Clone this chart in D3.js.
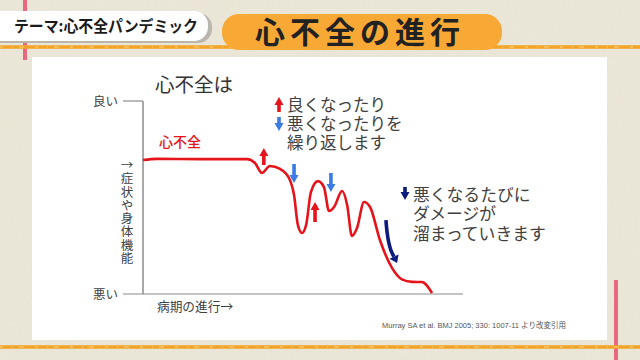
<!DOCTYPE html>
<html><head><meta charset="utf-8">
<script src="https://cdn.jsdelivr.net/npm/d3@7"></script>
<style>html,body{margin:0;padding:0;background:#eeeadb;}svg{display:block;}
.note{font-family:'Noto Sans CJK JP','Noto Sans',sans-serif;color:#404040;white-space:nowrap;margin:0;padding:0;}</style>
</head><body>
<svg id="c" width="640" height="360"></svg>
<script>
// ---- data ----
const stage = [0, 4.4, 18, 32.7, 35.2, 37.4, 39.9, 43.1, 45.9, 47.5, 48.7, 50.0, 51.3, 52.8, 55.0, 56.9, 58.5, 60.1, 62.6, 64.2, 65.7, 67.3, 69.5, 71.4, 74.5, 78.3, 81.4, 84.6, 87.7, 90.9];
const func  = [69.4, 70.0, 69.9, 69.9, 67.9, 62.7, 66.3, 64.8, 60.1, 51.3, 35.8, 31.6, 35.8, 52.8, 58.5, 55.4, 43.0, 45.1, 53.4, 46.1, 30.1, 34.2, 47.7, 45.1, 28.0, 13.5, 7.6, 6.3, 6.2, 0.5];
const yTickLabels = ["悪い", "良い"];
const yTickValues = [0, 100];
const yAxisTitle = "→症状や身体機能";
const xAxisTitle = "病期の進行→";
const seriesName = "心不全";
const chartTitle = "心不全は";
// annotation arrows
const arrowX    = [38.0, 47.5, 54.1, 59.1];
const arrowFrom = [66.8, 67.4, 37.3, 62.7];
const arrowTo   = [75.6, 57.5, 47.7, 52.8];
const arrowKind = ["up", "down", "up", "down"];
const damageArrow = [[76.4, 38.3], [77.6, 24], [79.9, 16.1]];
const noteLines1 = ["良くなったり", "悪くなったりを", "繰り返します"];
const noteLines2 = ["悪くなるたびに", "ダメージが", "溜まっていきます"];
const headerTag = "テーマ:心不全パンデミック";
const headerTitle = "心不全の進行";
const citation = "Murray SA et al. BMJ 2005; 330: 1007-11 より改変引用";

const RED = "#e5141b", BLUE = "#3b7be3", NAVY = "#0b1a7e", TXT = "#404040";
const FONT = "'Noto Sans CJK JP','Noto Sans',sans-serif";

const svg = d3.select("#c");
// background texture
const defs = svg.append("defs");
const f = defs.append("filter").attr("id","noise");
f.append("feTurbulence").attr("type","fractalNoise").attr("baseFrequency",0.9).attr("numOctaves",2).attr("result","n");
f.append("feColorMatrix").attr("type","matrix").attr("values","0 0 0 0 0.55  0 0 0 0 0.5  0 0 0 0 0.4  0 0 0 0.18 0");
svg.append("rect").attr("width",640).attr("height",360).attr("fill","#eeeadb");
svg.append("rect").attr("width",640).attr("height",360).attr("filter","url(#noise)");

// pink rulings
svg.append("line").attr("x1",25).attr("x2",25).attr("y1",0).attr("y2",60).attr("stroke","#e8697f").attr("stroke-width",4);
svg.append("line").attr("x1",616).attr("x2",616).attr("y1",280).attr("y2",360).attr("stroke","#e8697f").attr("stroke-width",4);
// orange rough lines
[47, 347].forEach(y => {
  svg.append("line").attr("x1",0).attr("x2",640).attr("y1",y).attr("y2",y).attr("stroke","#f2a426").attr("stroke-width",3.5);
  svg.append("line").attr("x1",0).attr("x2",640).attr("y1",y).attr("y2",y).attr("stroke","#f7cf7a").attr("stroke-width",1.2).attr("stroke-dasharray","3 9 1 6 5 11");
});

// white panel
svg.append("rect").attr("x",32).attr("y",57).attr("width",575).attr("height",283).attr("fill","#ffffff");

// header pills
svg.append("rect").attr("x",-20).attr("y",13).attr("width",232).attr("height",30).attr("rx",14).attr("fill","#b9b6ae");
svg.append("rect").attr("x",-20).attr("y",11).attr("width",228).attr("height",30).attr("rx",14).attr("fill","#ffffff");
svg.append("text").attr("x",14).attr("y",32).attr("font-family",FONT).attr("font-weight",700).attr("font-size",15.5)
  .attr("textLength",184).attr("lengthAdjust","spacingAndGlyphs").attr("fill","#1a1a1a").text(headerTag);
svg.append("rect").attr("x",222).attr("y",14).attr("width",280).attr("height",36).attr("rx",17).attr("fill","#f8a935");
svg.append("text").attr("x",360).attr("y",43).attr("text-anchor","middle").attr("font-family",FONT).attr("font-weight",700).attr("font-size",30).attr("letter-spacing",5).attr("fill","#222").text(headerTitle);

// scales
const x = d3.scaleLinear().domain([0,100]).range([143,461]);
const y = d3.scaleLinear().domain([0,100]).range([294,101]);

// axes
const g = svg.append("g");
g.append("line").attr("x1",x(0)).attr("x2",x(0)).attr("y1",y(100)).attr("y2",y(0)).attr("stroke","#8c8c8c").attr("stroke-width",1.5);
g.append("line").attr("x1",123).attr("x2",x(0)).attr("y1",y(100)).attr("y2",y(100)).attr("stroke","#8c8c8c").attr("stroke-width",1.2);
g.append("line").attr("x1",123).attr("x2",x(100)+2).attr("y1",y(0)).attr("y2",y(0)).attr("stroke","#8c8c8c").attr("stroke-width",1.2);
g.selectAll(".yt").data(yTickValues).join("text")
  .attr("x",118).attr("y",d=>y(d)+4.5).attr("text-anchor","end")
  .attr("font-family",FONT).attr("font-size",12.5).attr("fill",TXT)
  .text((d,i)=>yTickLabels[i]);
g.append("text").attr("x",127).attr("y",159)
  .style("writing-mode","vertical-rl").style("text-orientation","upright")
  .attr("letter-spacing",0.8)
  .attr("font-family",FONT).attr("font-size",12.5).attr("fill",TXT).text(yAxisTitle);
g.append("text").attr("x",157).attr("y",311).attr("font-family",FONT).attr("font-size",12.7).attr("fill",TXT).text(xAxisTitle);

// title
svg.append("text").attr("x",155).attr("y",92).attr("font-family",FONT).attr("font-size",19.5).attr("fill","#333").text(chartTitle);
svg.append("text").attr("x",159).attr("y",147).attr("font-family",FONT).attr("font-size",14).attr("font-weight",500).attr("fill",RED).text(seriesName);

// curve
const pts = stage.map((s,i)=>[s, func[i]]);
svg.append("path").datum(pts)
  .attr("d", d3.line().x(d=>x(d[0])).y(d=>y(d[1])).curve(d3.curveMonotoneX))
  .attr("fill","none").attr("stroke",RED).attr("stroke-width",2.6).attr("stroke-linejoin","round");

// straight arrows
function arrowPath(px, y0, y1) {
  const dir = y1 < y0 ? -1 : 1;
  const head = 8, hw = 4.5, sw = 1.8;
  const yb = y1 - dir*head;
  return `M${px-sw},${y0} L${px+sw},${y0} L${px+sw},${yb} L${px+hw},${yb} L${px},${y1} L${px-hw},${yb} L${px-sw},${yb} Z`;
}
svg.selectAll(".arr").data(arrowX).join("path")
  .attr("d",(d,i)=>arrowPath(x(d), y(arrowFrom[i]), y(arrowTo[i])))
  .attr("fill",(d,i)=>arrowKind[i]==="up"?RED:BLUE);

// damage arrow (curved)
const dpx = damageArrow.map(p=>[x(p[0]), y(p[1])]);
const end = dpx[2];
const ang = Math.atan2(end[1]-dpx[1][1], end[0]-dpx[1][0]);
const shaftEnd = [end[0]-7*Math.cos(ang), end[1]-7*Math.sin(ang)];
svg.append("path")
  .attr("d",`M${dpx[0][0]},${dpx[0][1]} Q${dpx[1][0]-2},${dpx[1][1]} ${shaftEnd[0]},${shaftEnd[1]}`)
  .attr("fill","none").attr("stroke",NAVY).attr("stroke-width",3.6);
const perp = ang + Math.PI/2;
svg.append("path")
  .attr("d",`M${end[0]},${end[1]} L${shaftEnd[0]+5*Math.cos(perp)},${shaftEnd[1]+5*Math.sin(perp)} L${shaftEnd[0]-5*Math.cos(perp)},${shaftEnd[1]-5*Math.sin(perp)} Z`)
  .attr("fill",NAVY);

// notes
svg.append("path").attr("d",arrowPath(279,112,97)).attr("fill",RED);
svg.append("path").attr("d",arrowPath(279,117,131)).attr("fill",BLUE);
svg.append("path").attr("d",arrowPath(405,187,200)).attr("fill",NAVY);
function noteBlock(lines, px, py, fs, lh) {
  const fo = svg.append("foreignObject").attr("x",px).attr("y",py).attr("width",190).attr("height",lh*lines.length+4);
  const div = fo.append("xhtml:div").attr("class","note")
    .style("font-size",fs+"px").style("line-height",lh+"px");
  div.html(lines.join("<br>"));
}
noteBlock(noteLines1, 287, 95, 16.5, 19);
noteBlock(noteLines2, 413, 184.5, 16.8, 19.5);

// citation
svg.append("text").attr("x",382).attr("y",328).attr("font-family","'Liberation Sans','Noto Sans CJK JP',sans-serif").attr("font-size",7.5).attr("fill","#555").text(citation);
</script>
</body></html>
